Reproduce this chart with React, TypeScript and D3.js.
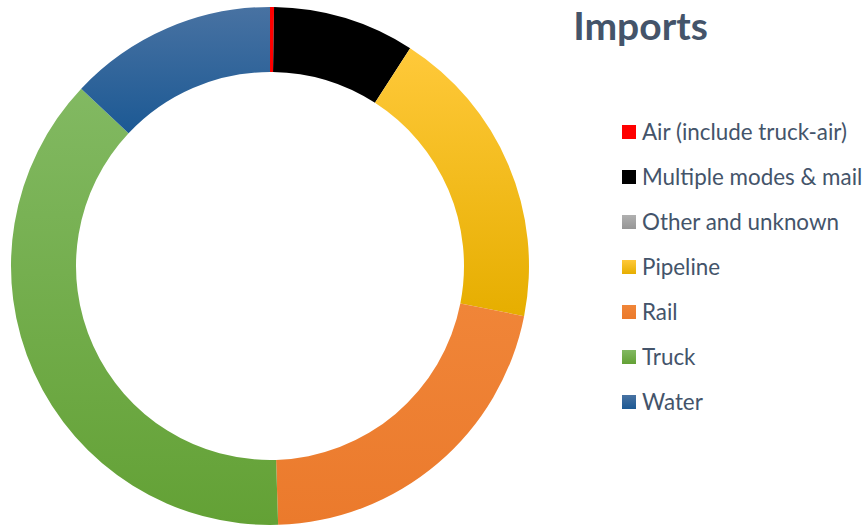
import React from "react";
import * as d3 from "d3";

const categories = ["Air (include truck-air)", "Multiple modes & mail", "Other and unknown", "Pipeline", "Rail", "Truck", "Water"];
const values = [0.25, 8.85, 0.0, 19.0, 21.4, 37.5, 13.0];
const colorTop = ["#FF0000", "#000000", "#B0B0B0", "#FFC93A", "#F08538", "#82B962", "#4872A2"];
const colorBottom = ["#FF0000", "#000000", "#969696", "#E6AE00", "#EB7A2C", "#63A135", "#1C5994"];
const title = "Imports";

export default function App() {
  const W = 867, H = 527;
  const cx = 270, cy = 266, rOuter = 259, rInner = 194;
  const pie = d3.pie<number>().sort(null).value((d) => d);
  const arcs = pie(values);
  const arc = d3.arc<d3.PieArcDatum<number>>().innerRadius(rInner).outerRadius(rOuter);
  const legendY = d3.scalePoint<string>().domain(categories).range([132, 402]);
  return (
    <svg width={W} height={H} style={{ position: "absolute", left: 0, top: 0 }}>
      <defs>
        {categories.map((c, i) => (
          <linearGradient key={c} id={`g${i}`} x1="0" y1="0" x2="0" y2="1">
            <stop offset="0%" stopColor={colorTop[i]} />
            <stop offset="100%" stopColor={colorBottom[i]} />
          </linearGradient>
        ))}
      </defs>
      <rect width={W} height={H} fill="#fff" />
      <g transform={`translate(${cx},${cy})`}>
        {arcs.map((a, i) =>
          a.value > 0 ? <path key={i} d={arc(a) || ""} fill={`url(#g${i})`} /> : null
        )}
      </g>
      <text x={640.5} y={40} textAnchor="middle" fontFamily="Lato, 'Open Sans', sans-serif" fontWeight="bold" fontSize={39} fill="#44546A">
        {title}
      </text>
      {categories.map((c, i) => {
        const y = legendY(c) as number;
        return (
          <g key={c}>
            <rect x={622} y={y - 7} width={14} height={14} fill={`url(#g${i})`} />
            <text x={642} y={y} dy="0.36em" fontFamily="Lato, 'Open Sans', sans-serif" fontSize={22.4} fill="#44546A">
              {c}
            </text>
          </g>
        );
      })}
    </svg>
  );
}
